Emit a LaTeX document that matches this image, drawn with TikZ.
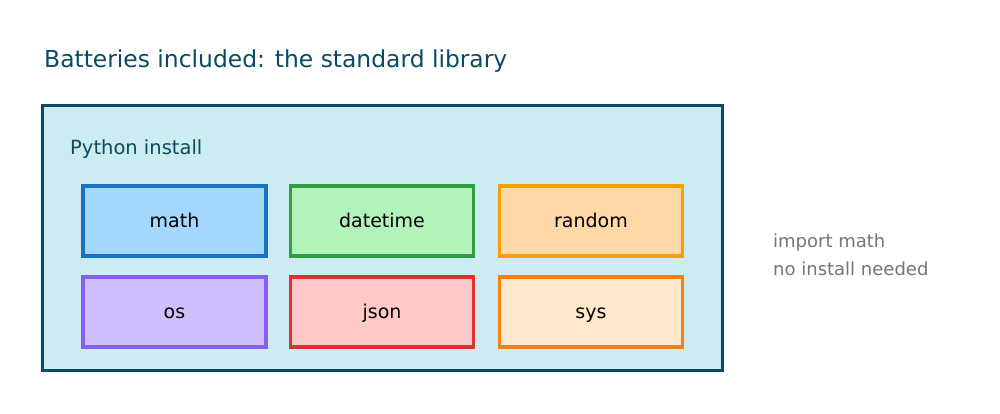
\documentclass[tikz,border=0pt]{standalone}
\usepackage{fontspec}
\setmainfont{DejaVu Sans}
\definecolor{teal}{HTML}{0B4A63}
\definecolor{panel}{HTML}{CDECF2}
\definecolor{bS}{HTML}{1971C2}\definecolor{bF}{HTML}{A5D8FF}
\definecolor{gS}{HTML}{2F9E44}\definecolor{gF}{HTML}{B2F2BB}
\definecolor{oS}{HTML}{F59F00}\definecolor{oF}{HTML}{FFD8A8}
\definecolor{pS}{HTML}{845EF7}\definecolor{pF}{HTML}{D0BFFF}
\definecolor{rS}{HTML}{E03131}\definecolor{rF}{HTML}{FFC9C9}
\definecolor{sS}{HTML}{FD7E14}\definecolor{sF}{HTML}{FFE8CC}
\definecolor{note}{HTML}{757575}
\begin{document}
\begin{tikzpicture}[x=1pt,y=-1pt,
  mod/.style={draw=#1S,fill=#1F,line width=3.5pt,minimum width=183pt,minimum height=70pt,inner sep=0pt,text height=14pt,text depth=1pt,font=\fontsize{19}{22}\selectfont,text=black},
  lbl/.style={anchor=base west,inner sep=0pt}]
\useasboundingbox (0,0) rectangle (1000,414);
\fill[white] (0,0) rectangle (1000,414);
\node[lbl,text=teal,font=\fontsize{23.4}{28}\selectfont] (title) at (44,68) {Batteries included: the standard library};
\draw[draw=teal,fill=panel,line width=3pt] (42,106) rectangle (722,370);
\node[lbl,text=teal,font=\fontsize{19.5}{23}\selectfont] (inst) at (70,155) {Python install};
\node[mod=b] (math) at (174.5,221) {math};
\node[mod=g] (dt) at (382,221) {datetime};
\node[mod=o] (rnd) at (591,221) {random};
\node[mod=p] (os) at (174.5,312) {os};
\node[mod=r] (json) at (382,312) {json};
\node[mod=s] (sys) at (591,312) {sys};
\node[lbl,text=note,font=\fontsize{18}{22}\selectfont] (n1) at (773,247) {import math};
\node[lbl,text=note,font=\fontsize{18}{22}\selectfont] (n2) at (773,275) {no install needed};
\end{tikzpicture}
\end{document}
